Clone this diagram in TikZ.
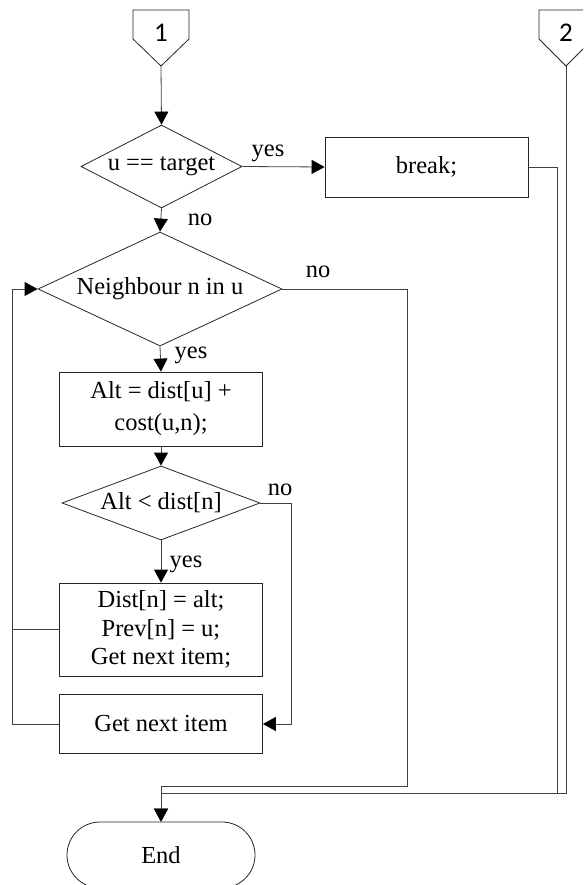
\documentclass[tikz,border=0pt]{standalone}
\usepackage{fontspec}
\setmainfont{Liberation Serif}
\newfontfamily\calfnt{Carlito}
\usetikzlibrary{arrows.meta,shapes.geometric,shapes.misc}
\begin{document}
\begin{tikzpicture}[x=1pt,y=-1pt,
  every node/.style={font=\fontsize{24.5}{28.5}\selectfont},
  box/.style={draw=black!85, line width=0.8pt, rectangle, minimum width=203pt, inner sep=0pt, align=center},
  dec/.style={draw=black!85, line width=0.8pt, diamond, inner sep=0pt},
  ln/.style={draw=black!75, line width=0.8pt},
  arr/.style={ln, -{Triangle[length=13pt,width=14pt,color=black]}},
  lbl/.style={inner sep=0pt},
  cnum/.style={inner sep=0pt, font=\calfnt\fontsize{27}{30}\selectfont}
]
\clip (0,0) rectangle (583,885);
% off-page connectors
\draw[ln, draw=black!85] (133,10) -- (189,10) -- (189,39) -- (161,66) -- (133,39) -- cycle;
\node[cnum] (c1) at (161,33) {1};
\coordinate (c1tip) at (161,66);
\draw[ln, draw=black!85] (539,10) -- (593,10) -- (593,39) -- (566,66) -- (539,39) -- cycle;
\node[cnum] (c2) at (566,33) {2};
\coordinate (c2tip) at (566,66);

% nodes
\node[dec, aspect=1.94, minimum width=161pt, minimum height=83pt] (d1) at (161.5,166.5) {u == target};
\node[box, minimum height=60pt] (brk) at (426.5,167) {break;};
\node[dec, aspect=2.14, minimum width=244pt, minimum height=114pt] (d2) at (160,289) {Neighbour n in u};
\node[box, minimum height=74pt, font=\fontsize{24.5}{32}\selectfont] (alt) at (161,409) {Alt = dist[u] +\\cost(u,n);};
\node[dec, aspect=2.68, minimum width=198pt, minimum height=74pt] (d3) at (161,503) {Alt {\textless} dist[n]};
\node[box, minimum height=93pt] (dist) at (161,629.5) {Dist[n] = alt;\\Prev[n] = u;\\Get next item;};
\node[box, minimum height=59pt] (get) at (161,724) {Get next item};
\node[draw=black!85, line width=0.8pt, rounded rectangle, minimum width=188pt, minimum height=66pt, inner sep=0pt] (end) at (161,855) {End};

% labels
\node[lbl] (l1) at (268,153) {yes};
\node[lbl] (l2) at (200,220) {no};
\node[lbl] (l3) at (318,272) {no};
\node[lbl] (l4) at (191,355) {yes};
\node[lbl] (l5) at (280,490) {no};
\node[lbl] (l6) at (186,564) {yes};

% junction coordinates
\coordinate (bj) at (557,793);
\coordinate (c2j) at (566,793);
\coordinate (ej) at (161,793);
\coordinate (nj) at (407,786);
\coordinate (ej2) at (161,786);
\coordinate (rc) at (291,724);
\coordinate (lc) at (12,289);

% connectors
\draw[arr] (c1tip) -- (d1.north);
\draw[arr] (d1.east) -- (brk.west);
\draw[arr] (d1.south) -- (d2.north);
\draw[arr] (d2.south) -- (alt.north);
\draw[arr] (alt.south) -- (d3.north);
\draw[arr] (d3.south) -- (dist.north);
\draw[arr] (d3.east) -| (rc) -- (get.east);
\draw[ln] (dist.west) -- (dist.west -| lc);
\draw[arr] (get.west) -| (lc) -- (d2.west);
\draw[ln] (brk.east) -| (bj);
\draw[arr] (c2tip) -- (c2j) -- (ej) -- (end.north);
\draw[arr] (d2.east) -| (nj) -- (ej2) -- (end.north);
\end{tikzpicture}
\end{document}
